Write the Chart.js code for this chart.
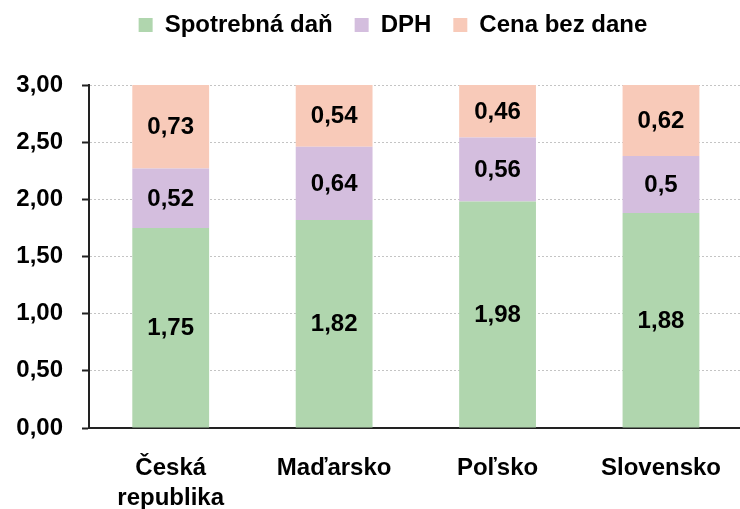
<!DOCTYPE html>
<html>
<head>
<meta charset="utf-8">
<script src="https://cdn.jsdelivr.net/npm/chart.js@4"></script>
<style>
  html, body { margin: 0; padding: 0; background: #fff; overflow: hidden; width: 740px; height: 509px; }
  #wrap { width: 746px; height: 509px; }
</style>
</head>
<body>
<div id="wrap"><canvas id="c" width="746" height="509"></canvas></div>
<script>
const categories = [["Česká", "republika"], "Maďarsko", "Poľsko", "Slovensko"];
const seriesNames = ["Spotrebná daň", "DPH", "Cena bez dane"];
const spotrebnaDan = [1.75, 1.82, 1.98, 1.88];
const dph = [0.52, 0.64, 0.56, 0.5];
const cenaBezDane = [0.73, 0.54, 0.46, 0.62];
const yTicks = [0, 0.5, 1, 1.5, 2, 2.5, 3];

const FONT = "'Liberation Sans', Arial, sans-serif";
const colors = ["#b0d6ae", "#d4bede", "#f8cab9"];

const fmtTick = v => v.toFixed(2).replace('.', ',');
const fmtLabel = v => String(v).replace('.', ',');

const barLabels = {
  id: 'barLabels',
  afterDatasetsDraw(chart) {
    const ctx = chart.ctx;
    ctx.save();
    ctx.font = "bold 24px " + FONT;
    ctx.fillStyle = "#000";
    ctx.textAlign = "center";
    ctx.textBaseline = "middle";
    chart.data.datasets.forEach((ds, di) => {
      const meta = chart.getDatasetMeta(di);
      meta.data.forEach((bar, i) => {
        const y = (bar.y + bar.base) / 2;
        ctx.fillText(fmtLabel(ds.data[i]), bar.x, y + 1);
      });
    });
    ctx.restore();
  }
};

const legendTweak = {
  id: 'legendTweak',
  beforeLayout(chart) {
    const lg = chart.legend;
    if (lg && !lg._patched) {
      const f = lg.fit;
      lg.fit = function () { f.apply(this, arguments); this.height = 85; };
      lg._patched = true;
    }
  },
  afterLayout(chart) {
    const lg = chart.legend;
    if (lg) { lg.top -= 9; lg.left += 20; lg.right += 20; }
  }
};

new Chart(document.getElementById('c'), {
  type: 'bar',
  data: {
    labels: categories,
    datasets: [
      { label: seriesNames[0], data: spotrebnaDan, backgroundColor: colors[0] },
      { label: seriesNames[1], data: dph, backgroundColor: colors[1] },
      { label: seriesNames[2], data: cenaBezDane, backgroundColor: colors[2] }
    ]
  },
  options: {
    responsive: false,
    animation: false,
    layout: { padding: 0 },
    datasets: { bar: { categoryPercentage: 1, barPercentage: 0.47, borderWidth: 0 } },
    plugins: {
      tooltip: { enabled: false },
      legend: {
        position: 'top',
        labels: {
          color: '#000',
          font: { family: FONT, size: 24, weight: 'bold' },
          boxWidth: 14,
          boxHeight: 14,
          padding: 22
        }
      }
    },
    scales: {
      x: {
        stacked: true,
        grid: { display: false, drawTicks: false },
        border: { display: true, color: '#222', width: 2 },
        ticks: {
          color: '#000',
          font: { family: FONT, size: 24, weight: 'bold', lineHeight: 1.25 },
          padding: 25,
          maxRotation: 0,
          autoSkip: false
        },
        afterFit(s) { s.height = 81; }
      },
      y: {
        stacked: true,
        min: 0,
        max: 3,
        afterBuildTicks(s) { s.ticks = yTicks.map(v => ({ value: v })); },
        grid: {
          color: '#c4c4c4',
          lineWidth: 1,
          drawTicks: true,
          tickLength: 7,
          tickColor: '#222',
          tickWidth: 2,
          tickBorderDash: []
        },
        border: { display: true, color: '#222', width: 2, dash: [2, 2] },
        ticks: {
          color: '#000',
          font: { family: FONT, size: 24, weight: 'bold' },
          padding: 19,
          callback: v => fmtTick(v)
        },
        afterFit(s) { s.width = 89; }
      }
    }
  },
  plugins: [barLabels, legendTweak]
});
</script>
</body>
</html>
